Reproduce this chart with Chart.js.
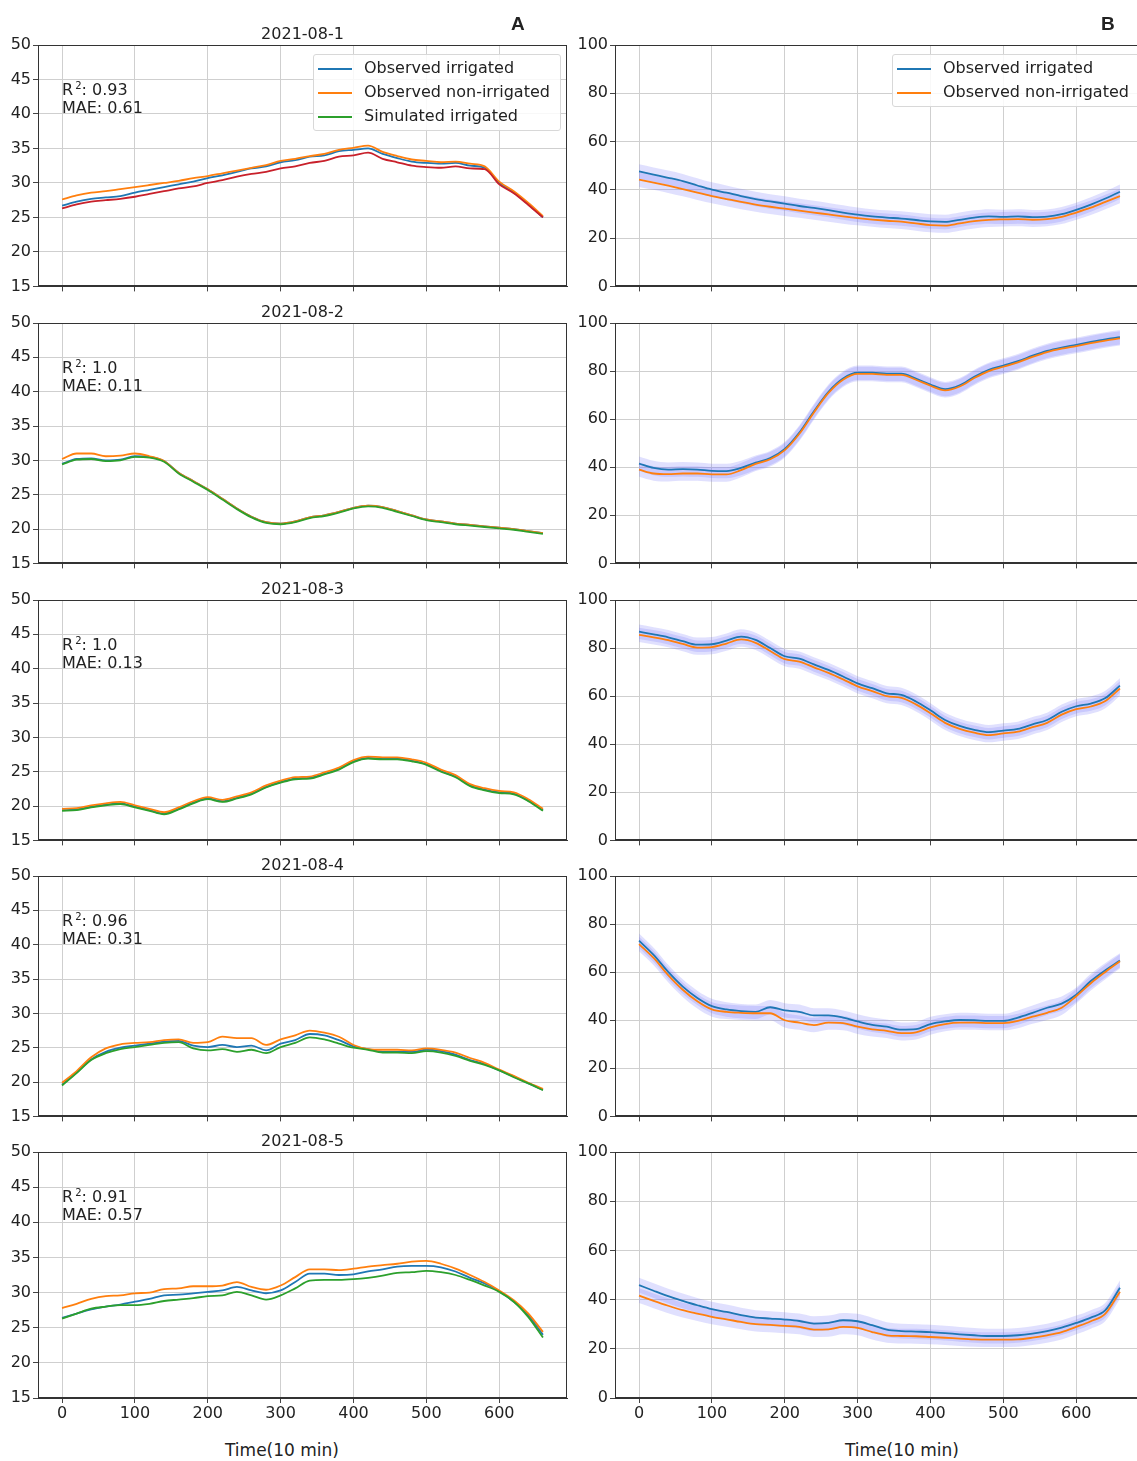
<!DOCTYPE html>
<html>
<head>
<meta charset="utf-8">
<script src="https://cdn.jsdelivr.net/npm/chart.js@4.4.1/dist/chart.umd.min.js"></script>
<style>
  html, body { margin: 0; padding: 0; background: #fff; }
  body { width: 1137px; height: 1461px; position: relative; overflow: hidden; font-family: "DejaVu Sans", sans-serif; color: #222; }
  canvas { position: absolute; }
  .stat { position: absolute; font-size: 16px; line-height: 18px; white-space: nowrap; }
  .stat sup { font-size: 10px; vertical-align: 6px; line-height: 0; margin-left: 2px; }
  .legend { position: absolute; border: 1px solid #d8d8d8; border-radius: 3px; background: rgba(255,255,255,0.85); font-size: 16px; padding: 1px 0 2px 4px; }
  .legend div { height: 24px; line-height: 24px; white-space: nowrap; }
  .legend span { display: inline-block; width: 34px; height: 2px; vertical-align: middle; margin-right: 12px; }
  .panel-tag { position: absolute; font: bold 19px "Liberation Sans", Arial, sans-serif; }
  .xlabel { position: absolute; font-size: 17px; white-space: nowrap; }
</style>
</head>
<body>
<script>
// time axis, 10 min steps
const TIME = [0,20,40,60,80,100,120,140,160,180,200,220,240,260,280,300,320,340,360,380,400,420,440,460,480,500,520,540,560,580,600,620,640,660];
const DAYS = ['2021-08-1', '2021-08-2', '2021-08-3', '2021-08-4', '2021-08-5'];
const R2 = ['0.93', '1.0', '1.0', '0.96', '0.91'];
const MAE = ['0.61', '0.11', '0.13', '0.31', '0.57'];
const TEMP_TICKS = [15,20,25,30,35,40,45,50];
const HUM_TICKS = [0,20,40,60,80,100];
const TIME_TICKS = [0,100,200,300,400,500,600];

// A: temperature
const d1TempIrr = [26.7,27.3,27.7,27.9,28.1,28.6,29.0,29.4,29.8,30.2,30.7,31.1,31.6,32.1,32.4,33.0,33.3,33.8,34.0,34.6,34.8,35.0,34.2,33.6,33.1,32.9,32.8,32.9,32.5,32.2,30.0,28.6,26.9,25.0];
const d1TempNon = [27.6,28.2,28.6,28.8,29.1,29.4,29.7,30.0,30.3,30.7,31.0,31.4,31.8,32.2,32.6,33.2,33.5,33.9,34.2,34.8,35.1,35.4,34.5,33.9,33.4,33.2,33.0,33.1,32.8,32.4,30.2,28.8,27.1,25.2];
const d1TempSim = [26.3,26.9,27.3,27.5,27.7,28.0,28.4,28.8,29.2,29.5,30.0,30.4,30.9,31.3,31.6,32.1,32.4,32.9,33.2,33.8,34.0,34.4,33.5,33.0,32.5,32.3,32.2,32.4,32.1,32.0,29.8,28.5,26.8,25.0];

const d2TempIrr = [29.5,30.2,30.3,30.0,30.1,30.6,30.5,29.9,28.2,27.0,25.8,24.4,23.0,21.8,21.0,20.8,21.1,21.7,22.0,22.5,23.1,23.4,23.2,22.6,22.0,21.4,21.1,20.8,20.6,20.4,20.2,20.0,19.7,19.4];
const d2TempNon = [30.2,31.0,31.0,30.6,30.7,31.0,30.6,29.9,28.2,27.0,25.8,24.4,23.0,21.8,21.0,20.8,21.1,21.7,22.0,22.5,23.1,23.4,23.2,22.6,22.0,21.4,21.1,20.8,20.6,20.4,20.2,20.0,19.7,19.4];
const d2TempSim = [29.4,30.1,30.2,29.9,30.0,30.5,30.4,29.8,28.1,26.9,25.7,24.3,22.9,21.7,20.9,20.7,21.0,21.6,21.9,22.4,23.0,23.3,23.1,22.5,21.9,21.3,21.0,20.7,20.5,20.3,20.1,19.9,19.6,19.3];

const d3TempIrr = [19.4,19.5,19.9,20.2,20.4,19.9,19.4,18.9,19.6,20.5,21.1,20.7,21.2,21.8,22.8,23.5,24.0,24.1,24.7,25.4,26.5,27.0,26.9,26.9,26.6,26.1,25.1,24.3,23.0,22.4,22.0,21.8,20.8,19.4];
const d3TempNon = [19.6,19.7,20.1,20.4,20.6,20.1,19.6,19.1,19.8,20.7,21.3,20.9,21.4,22.0,23.0,23.7,24.2,24.3,24.9,25.6,26.7,27.2,27.1,27.1,26.8,26.3,25.3,24.5,23.2,22.6,22.2,22.0,21.0,19.6];
const d3TempSim = [19.3,19.4,19.8,20.1,20.3,19.8,19.3,18.8,19.5,20.4,21.0,20.6,21.1,21.7,22.7,23.4,23.9,24.0,24.6,25.3,26.4,26.9,26.8,26.8,26.5,26.0,25.0,24.2,22.9,22.3,21.9,21.7,20.7,19.3];

const d4TempIrr = [19.6,21.4,23.3,24.4,25.0,25.3,25.6,25.9,26.0,25.3,25.1,25.4,25.1,25.3,24.6,25.6,26.1,27.0,26.8,26.1,25.2,24.8,24.4,24.4,24.4,24.7,24.5,24.0,23.2,22.6,21.7,20.8,19.8,18.9];
const d4TempNon = [19.9,21.6,23.6,24.9,25.5,25.7,25.8,26.1,26.2,25.7,25.8,26.6,26.4,26.4,25.4,26.2,26.8,27.5,27.2,26.6,25.4,24.8,24.7,24.7,24.6,24.9,24.7,24.3,23.5,22.8,21.8,20.9,19.9,19.0];
const d4TempSim = [19.5,21.3,23.2,24.2,24.8,25.1,25.4,25.7,25.8,24.9,24.6,24.8,24.4,24.7,24.2,25.1,25.7,26.5,26.2,25.6,25.0,24.7,24.3,24.3,24.2,24.5,24.3,23.8,23.1,22.5,21.7,20.7,19.8,18.8];

const d5TempIrr = [26.4,27.0,27.6,28.0,28.3,28.7,29.1,29.6,29.7,29.9,30.1,30.3,30.8,30.3,29.9,30.3,31.5,32.7,32.7,32.5,32.6,33.0,33.3,33.7,33.8,33.8,33.6,33.0,32.1,31.3,30.2,28.7,26.8,24.0];
const d5TempNon = [27.8,28.4,29.1,29.5,29.6,29.9,30.0,30.5,30.6,30.9,30.9,31.0,31.5,30.8,30.4,31.0,32.2,33.3,33.3,33.2,33.4,33.7,33.9,34.1,34.4,34.5,34.1,33.4,32.5,31.5,30.3,28.9,27.0,24.4];
const d5TempSim = [26.3,27.0,27.7,28.0,28.2,28.2,28.4,28.8,29.0,29.2,29.5,29.6,30.1,29.6,29.0,29.6,30.6,31.7,31.8,31.8,31.9,32.1,32.4,32.8,32.9,33.1,32.9,32.5,31.8,31.0,30.1,28.7,26.5,23.6];

// B: relative humidity
const d1HumIrr = [47.6,46.3,45.0,43.6,41.8,40.1,38.8,37.4,36.2,35.2,34.3,33.3,32.5,31.6,30.6,29.7,29.0,28.5,28.1,27.5,26.9,26.7,27.6,28.5,29.0,28.8,29.0,28.7,28.9,29.9,31.7,33.9,36.4,39.2];
const d1HumNon = [44.2,43.0,41.7,40.3,38.8,37.4,36.2,35.0,33.9,33.0,32.2,31.4,30.6,29.8,29.0,28.3,27.7,27.2,26.8,26.1,25.4,25.2,26.1,27.0,27.6,27.8,27.9,27.6,27.9,28.8,30.6,32.6,35.0,37.4];

const d2HumIrr = [41.5,39.7,39.0,39.2,39.0,38.5,38.4,39.7,41.9,43.8,47.6,54.4,63.3,71.4,76.9,79.3,79.3,78.9,78.9,76.9,74.4,72.5,74.1,77.6,80.5,82.3,84.1,86.4,88.4,89.8,90.9,92.1,93.2,94.1];
const d2HumNon = [39.0,37.4,37.1,37.4,37.4,37.0,37.0,38.8,41.4,43.3,47.1,53.9,62.8,70.9,76.4,78.8,78.8,78.4,78.4,76.4,73.9,72.0,73.6,77.1,80.0,81.8,83.6,85.9,87.9,89.3,90.4,91.6,92.7,93.6];

const d3HumIrr = [86.8,85.7,84.5,82.9,81.4,81.6,83.1,84.8,83.4,80.0,76.6,75.6,73.2,70.9,68.2,65.3,63.3,61.2,60.5,57.8,54.1,50.1,47.6,46.0,45.0,45.7,46.4,48.3,50.1,53.5,55.8,56.9,59.2,64.4];
const d3HumNon = [85.5,84.5,83.3,81.7,80.2,80.4,81.9,83.6,82.2,78.8,75.4,74.4,72.0,69.7,67.0,64.1,62.1,60.0,59.3,56.6,52.9,48.9,46.4,44.8,43.8,44.5,45.2,47.1,48.9,52.3,54.6,55.7,58.0,63.2];

const d4HumIrr = [73.1,67.2,60.1,54.0,49.3,45.9,44.5,43.8,43.5,45.4,44.1,43.5,42.0,42.0,41.1,39.5,38.1,37.3,36.1,36.3,38.4,39.5,40.1,40.0,39.7,39.7,41.1,43.1,45.2,46.9,50.6,56.3,60.8,64.9];
const d4HumNon = [71.7,65.9,58.8,52.7,47.9,44.5,43.5,43.1,42.9,42.9,40.0,39.0,38.0,39.0,38.8,37.3,36.2,35.6,34.6,35.0,37.0,38.4,39.0,39.0,38.8,38.8,39.7,41.5,43.1,45.2,50.0,55.4,60.1,64.5];

const d5HumIrr = [45.9,43.6,41.4,39.5,37.7,36.1,35.0,33.7,32.7,32.3,31.9,31.3,30.2,30.5,31.6,31.2,29.6,27.8,27.2,27.0,26.8,26.4,25.9,25.5,25.2,25.2,25.5,26.2,27.2,28.6,30.5,32.7,35.7,44.8];
const d5HumNon = [41.6,39.5,37.5,35.7,34.3,33.0,32.0,30.9,30.0,29.7,29.3,28.9,27.8,27.9,28.9,28.5,26.8,25.5,25.2,25.1,24.8,24.5,24.1,23.8,23.7,23.7,23.8,24.5,25.5,26.8,28.9,31.2,34.3,43.2];

// humidity spread shown as shaded band (+/- this many %)
const HUM_SPREAD = 3;

const tempSeries = [
  [d1TempIrr, d1TempNon, d1TempSim],
  [d2TempIrr, d2TempNon, d2TempSim],
  [d3TempIrr, d3TempNon, d3TempSim],
  [d4TempIrr, d4TempNon, d4TempSim],
  [d5TempIrr, d5TempNon, d5TempSim]
];
const humSeries = [
  [d1HumIrr, d1HumNon],
  [d2HumIrr, d2HumNon],
  [d3HumIrr, d3HumNon],
  [d4HumIrr, d4HumNon],
  [d5HumIrr, d5HumNon]
];

const BLUE = '#1f77b4', ORANGE = '#ff7f0e', GREEN = '#2ca02c', RED = '#c8202a';
const BAND = 'rgba(115,115,250,0.22)';
const FONT = 'DejaVu Sans';

const ROW_TOP = [45, 323, 600, 876, 1152];
const ROW_H = [246, 245, 245, 245, 246];
const COL_LEFT = [0, 577];
const CANVAS_W = 575;

Chart.defaults.font.family = FONT;
Chart.defaults.color = '#222';

// frame (all four spines) + panel title
const framePlugin = {
  id: 'frame',
  afterDraw(chart, args, opts) {
    const a = chart.chartArea, ctx = chart.ctx;
    ctx.save();
    ctx.strokeStyle = '#333';
    ctx.lineWidth = 1;
    ctx.strokeRect(Math.round(a.left) + 0.5, Math.round(a.top) + 0.5, Math.round(a.width) - 1, Math.round(a.height) - 1);
    if (opts.title) {
      ctx.fillStyle = '#222';
      ctx.font = '16px "' + FONT + '"';
      ctx.textAlign = 'center';
      ctx.textBaseline = 'middle';
      ctx.fillText(opts.title, (a.left + a.right) / 2, a.top - 10);
    }
    ctx.restore();
  }
};

function pts(arr, shift) {
  return TIME.map((t, i) => ({ x: t, y: arr[i] + (shift || 0) }));
}

function lineDs(label, arr, color) {
  return {
    label: label, data: pts(arr), borderColor: color, backgroundColor: color,
    borderWidth: 1.8, pointRadius: 0, fill: false, cubicInterpolationMode: 'monotone'
  };
}

function makePanel(row, col) {
  const bottomH = row === 4 ? 30 : 7;
  const canvas = document.createElement('canvas');
  const h = 30 + ROW_H[row] + bottomH;
  canvas.width = CANVAS_W;
  canvas.height = h;
  canvas.style.left = COL_LEFT[col] + 'px';
  canvas.style.top = (ROW_TOP[row] - 30) + 'px';
  canvas.style.width = CANVAS_W + 'px';
  canvas.style.height = h + 'px';
  document.body.appendChild(canvas);

  let datasets, yTicks;
  if (col === 0) {
    const s = tempSeries[row];
    // last plotted sits on top, so simulated first
    datasets = [
      lineDs('Simulated irrigated', s[2], row === 0 ? RED : GREEN),
      lineDs('Observed non-irrigated', s[1], ORANGE),
      lineDs('Observed irrigated', s[0], BLUE)
    ];
    yTicks = TEMP_TICKS;
  } else {
    const s = humSeries[row];
    datasets = [
      lineDs('Observed non-irrigated', s[1], ORANGE),
      lineDs('Observed irrigated', s[0], BLUE)
    ];
    s.forEach(arr => {
      const lo = datasets.length;
      datasets.push({ data: pts(arr, -HUM_SPREAD), borderWidth: 0, pointRadius: 0, fill: false, cubicInterpolationMode: 'monotone' });
      datasets.push({ data: pts(arr, HUM_SPREAD), borderWidth: 0, pointRadius: 0, backgroundColor: BAND, fill: { target: lo }, cubicInterpolationMode: 'monotone' });
    });
    yTicks = HUM_TICKS;
  }

  new Chart(canvas.getContext('2d'), {
    type: 'line',
    data: { datasets: datasets },
    plugins: [framePlugin],
    options: {
      responsive: false,
      animation: false,
      events: [],
      layout: { autoPadding: false, padding: { top: 30, right: 8, bottom: 0, left: 0 } },
      plugins: {
        legend: { display: false },
        tooltip: { enabled: false },
        frame: { title: col === 0 ? DAYS[row] : '' }
      },
      scales: {
        x: {
          type: 'linear', min: -33, max: 693,
          afterBuildTicks: (sc) => { sc.ticks = TIME_TICKS.map(v => ({ value: v })); },
          afterFit: (sc) => { sc.height = bottomH; },
          grid: { color: '#cfcfcf', lineWidth: 1, drawTicks: true, tickLength: 5, tickColor: '#444' },
          border: { color: '#333', width: 1 },
          ticks: { display: row === 4, font: { size: 16 }, color: '#222', padding: 1, maxRotation: 0 }
        },
        y: {
          type: 'linear', min: yTicks[0], max: yTicks[yTicks.length - 1],
          afterBuildTicks: (sc) => { sc.ticks = yTicks.map(v => ({ value: v })); },
          afterFit: (sc) => { sc.width = 38; },
          grid: { color: '#cfcfcf', lineWidth: 1, drawTicks: true, tickLength: 5, tickColor: '#444' },
          border: { color: '#333', width: 1 },
          ticks: { font: { size: 16 }, color: '#222', padding: 2 }
        }
      }
    }
  });

  if (col === 0) {
    const st = document.createElement('div');
    st.className = 'stat';
    st.style.left = '62px';
    st.style.top = (ROW_TOP[row] + 36) + 'px';
    st.innerHTML = 'R<sup>2</sup>: ' + R2[row] + '<br>MAE: ' + MAE[row];
    document.body.appendChild(st);
  }
}

for (let r = 0; r < 5; r++) {
  makePanel(r, 0);
  makePanel(r, 1);
}

// legends (matplotlib style boxes)
function addLegend(left, width, items) {
  const box = document.createElement('div');
  box.className = 'legend';
  box.style.left = left + 'px';
  box.style.top = '54px';
  box.style.width = width + 'px';
  box.innerHTML = items.map(it => '<div><span style="background:' + it[1] + '"></span>' + it[0] + '</div>').join('');
  document.body.appendChild(box);
}
addLegend(313, 242, [['Observed irrigated', BLUE], ['Observed non-irrigated', ORANGE], ['Simulated irrigated', GREEN]]);
addLegend(892, 250, [['Observed irrigated', BLUE], ['Observed non-irrigated', ORANGE]]);

function addText(cls, text, left, top) {
  const d = document.createElement('div');
  d.className = cls;
  d.textContent = text;
  d.style.left = left + 'px';
  d.style.top = top + 'px';
  document.body.appendChild(d);
}
addText('panel-tag', 'A', 511, 13);
addText('panel-tag', 'B', 1101, 13);
addText('xlabel', 'Time(10 min)', 225, 1440);
addText('xlabel', 'Time(10 min)', 845, 1440);
</script>
</body>
</html>
